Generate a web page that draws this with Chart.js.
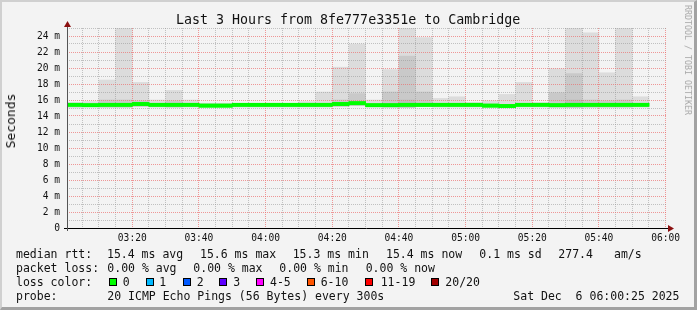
<!DOCTYPE html>
<html>
<head>
<meta charset="utf-8">
<script src="https://cdn.jsdelivr.net/npm/chart.js@4.4.1/dist/chart.umd.min.js"></script>
<style>
    html, body { margin: 0; padding: 0; background: #f3f3f3; }
    #frame {
        position: relative; width: 697px; height: 310px; box-sizing: border-box;
        border-top: 2px solid #d0d0d0; border-left: 2px solid #d0d0d0;
        border-right: 3px solid #a2a2a2; border-bottom: 3px solid #a2a2a2;
        background: #f3f3f3; overflow: hidden;
        font-family: "DejaVu Sans Mono", monospace; color: #111;
    }
    #chart { position: absolute; left: -2px; top: -2px; }
    .t { position: absolute; white-space: pre; font-size: 11.5px; line-height: 14px; }
    .box { position: absolute; width: 6px; height: 6px; border: 1px solid #000; }
</style>
</head>
<body>
<div id="frame">
    <canvas id="chart" width="697" height="310"></canvas>
</div>
<script>
// --- DATA ---
const slotTimes = ['03:00','03:05','03:10','03:15','03:20','03:25','03:30','03:35','03:40','03:45',
                   '03:50','03:55','04:00','04:05','04:10','04:15','04:20','04:25','04:30','04:35',
                   '04:40','04:45','04:50','04:55','05:00','05:05','05:10','05:15','05:20','05:25',
                   '05:30','05:35','05:40','05:45','05:50'];
// median rtt per 5 min slot (ms)
const median = [15.4,15.35,15.4,15.4,15.5,15.4,15.4,15.4,15.3,15.3,
                15.4,15.4,15.4,15.4,15.4,15.4,15.5,15.6,15.35,15.35,
                15.4,15.4,15.4,15.4,15.4,15.3,15.25,15.4,15.4,15.35,
                15.4,15.4,15.4,15.4,15.4];
// smoke: lowest and highest ping (ms)
const smokeLow = [15.0,15.1,15.1,15.1,15.2,15.1,15.1,15.1,15.1,15.1,
                  15.1,15.1,15.1,15.1,15.1,15.1,15.2,15.3,15.1,15.1,
                  15.1,15.2,15.1,15.1,15.1,15.1,15.0,15.1,15.1,15.1,
                  15.1,15.1,15.1,15.1,15.1];
const smokeHigh = [15.7,15.8,18.5,25.0,18.2,16.0,17.2,16.0,15.6,15.6,
                   15.5,15.5,15.6,15.5,15.8,17.0,20.1,23.0,16.0,19.8,
                   25.0,23.8,16.2,16.4,15.7,15.9,16.7,18.2,15.7,19.9,
                   25.0,24.4,19.4,25.0,16.4];
// denser middle part of the smoke (ms), null where there is none
const smokeMid = [null,null,16.0,16.0,15.9,null,15.9,null,null,null,
                  null,null,null,null,null,null,16.0,16.8,null,17.0,
                  21.5,17.0,null,null,null,null,null,null,null,16.9,
                  19.3,16.0,15.9,16.0,null];
const smokeCore = [null,null,null,null,null,null,null,null,null,null,
                   null,null,null,null,null,null,null,null,null,null,
                   16.0,null,null,null,null,null,null,null,null,null,
                   16.0,null,null,null,null];
const yTicks = [0,2,4,6,8,10,12,14,16,18,20,22,24];
const lossColors = [
    ['0', '#00ff00'], ['1', '#00b8ff'], ['2', '#0059ff'], ['3', '#5e00ff'],
    ['4-5', '#ff00ff'], ['6-10', '#ff5500'], ['11-19', '#ff0000'], ['20/20', '#a10000']
];
const startOffset = 25 / 60;   // graph starts at 03:00:25

const toMin = t => { const p = t.split(':'); return (+p[0]) * 60 + (+p[1]) - 180 + 2.5; };
const xs = slotTimes.map(toMin);
const floating = (lo, hi) => xs.map((x, i) => (lo[i] == null || hi[i] == null) ? { x: x, y: null } : { x: x, y: [lo[i], hi[i]] });
const medianBand = xs.map((x, i) => ({ x: x, y: [median[i] - 0.19, median[i] + 0.19] }));

const pad2 = n => String(n).padStart(2, '0');
const fmtTime = m => pad2(3 + Math.floor(m / 60)) + ':' + pad2(m % 60);

const MAJOR = 'rgba(235,110,110,0.7)';
const MINOR = 'rgba(150,150,150,0.55)';

// axes arrows + median redrawn above the grid
const overlay = {
    id: 'overlay',
    afterDraw(chart) {
        const ctx = chart.ctx, a = chart.chartArea;
        ctx.save();
        ctx.beginPath();
        ctx.rect(a.left, a.top, a.right - a.left, a.bottom - a.top);
        ctx.clip();
        chart.getDatasetMeta(3).controller.draw();
        ctx.restore();

        ctx.save();
        ctx.strokeStyle = '#000';
        ctx.lineWidth = 1;
        ctx.beginPath();
        ctx.moveTo(a.left - 3, a.bottom + 0.5); ctx.lineTo(a.right + 2, a.bottom + 0.5);
        ctx.stroke();
        ctx.strokeStyle = '#555';
        ctx.beginPath();
        ctx.moveTo(a.left + 0.5, a.top - 6); ctx.lineTo(a.left + 0.5, a.bottom + 3);
        ctx.stroke();
        ctx.fillStyle = '#8b1010';
        ctx.beginPath();
        ctx.moveTo(a.left + 0.5, a.top - 7); ctx.lineTo(a.left - 3, a.top - 1); ctx.lineTo(a.left + 4, a.top - 1);
        ctx.closePath(); ctx.fill();
        ctx.beginPath();
        ctx.moveTo(a.right + 7, a.bottom + 0.5); ctx.lineTo(a.right + 1, a.bottom - 3); ctx.lineTo(a.right + 1, a.bottom + 4);
        ctx.closePath(); ctx.fill();
        ctx.restore();
    }
};

const ctx = document.getElementById('chart').getContext('2d');
new Chart(ctx, {
    type: 'bar',
    data: {
        datasets: [
            { data: floating(smokeLow, smokeHigh), backgroundColor: '#dcdcdc', order: 3 },
            { data: floating(smokeLow, smokeMid), backgroundColor: '#c9c9c9', order: 2 },
            { data: floating(smokeLow, smokeCore), backgroundColor: '#bdbdbd', order: 1 },
            { data: medianBand, backgroundColor: '#00ff00', order: 0 }
        ]
    },
    options: {
        responsive: false,
        animation: false,
        devicePixelRatio: 1,
        layout: { padding: { left: 0, top: 28, right: 30, bottom: 62 } },
        datasets: {
            bar: { grouped: false, barPercentage: 1, categoryPercentage: 1, borderWidth: 0 }
        },
        plugins: { legend: { display: false }, tooltip: { enabled: false } },
        scales: {
            x: {
                type: 'linear',
                offset: false,
                min: startOffset,
                max: 180 + startOffset,
                afterFit: s => { s.height = 20; },
                afterBuildTicks: s => {
                    const t = [];
                    for (let m = 5; m <= 180; m += 5) t.push({ value: m });
                    s.ticks = t;
                },
                grid: {
                    z: 1,
                    offset: false,
                    drawTicks: false,
                    color: c => (c.tick && c.tick.value % 20 === 0) ? MAJOR : MINOR
                },
                border: { display: false, dash: [1, 1] },
                ticks: {
                    autoSkip: false, maxRotation: 0, padding: 5, color: '#111',
                    font: { family: 'DejaVu Sans Mono', size: 9.6 },
                    callback: v => v % 20 === 0 ? fmtTime(v) : ''
                }
            },
            y: {
                min: 0, max: 25,
                afterFit: s => { s.width = 67; },
                afterBuildTicks: s => {
                    const t = [];
                    for (let v = 0; v <= 25; v++) t.push({ value: v });
                    s.ticks = t;
                },
                grid: {
                    z: 1,
                    drawTicks: false,
                    color: c => (c.tick && c.tick.value === 0) ? 'rgba(0,0,0,0)' :
                        (yTicks.includes(c.tick.value) ? MAJOR : MINOR)
                },
                border: { display: false, dash: [1, 1] },
                ticks: {
                    autoSkip: false, padding: 7, color: '#111',
                    font: { family: 'DejaVu Sans Mono', size: 9.6 },
                    callback: v => yTicks.includes(v) ? (v === 0 ? '0' : v + ' m') : ''
                }
            }
        }
    },
    plugins: [overlay]
});

// --- TEXT AROUND THE GRAPH ---
const frame = document.getElementById('frame');
function put(text, x, y, style) {
    const d = document.createElement('div');
    d.className = 't';
    d.textContent = text;
    d.style.left = (x - 2) + 'px';
    d.style.top = (y - 2) + 'px';
    if (style) Object.assign(d.style, style);
    frame.appendChild(d);
    return d;
}
put('Last 3 Hours from 8fe777e3351e to Cambridge', 176, 12, { fontSize: '13.3px', lineHeight: '16px' });
put('Seconds', 11, 121, { fontSize: '13px', transform: 'translate(-50%, -50%) rotate(-90deg)' });
put('RRDTOOL / TOBI OETIKER', 688, 60, { fontSize: '8.3px', color: '#a8a8a8', transform: 'translate(-50%, -50%) rotate(90deg)' });

const rows = [247, 261, 275, 289];
put('median rtt:', 16, rows[0]);
put('15.4 ms avg', 107, rows[0]);
put('15.6 ms max', 200, rows[0]);
put('15.3 ms min', 292.7, rows[0]);
put('15.4 ms now', 386, rows[0]);
put('0.1 ms sd', 479.3, rows[0]);
put('277.4', 558.3, rows[0]);
put('am/s', 614, rows[0]);

put('packet loss:', 16, rows[1]);
put('0.00 % avg', 107.3, rows[1]);
put('0.00 % max', 193.3, rows[1]);
put('0.00 % min', 279.3, rows[1]);
put('0.00 % now', 365.7, rows[1]);

put('loss color:', 16, rows[2]);
const boxX = [108.7, 145.7, 182.7, 219, 256, 307, 365.3, 430.7];
const labelX = [122.7, 159.3, 196.7, 233.3, 270, 320.7, 380.7, 445.3];
lossColors.forEach((lc, i) => {
    const b = document.createElement('div');
    b.className = 'box';
    b.style.left = (boxX[i] - 2) + 'px';
    b.style.top = (278 - 2) + 'px';
    b.style.background = lc[1];
    frame.appendChild(b);
    put(lc[0], labelX[i], rows[2]);
});

put('probe:', 16, rows[3]);
put('20 ICMP Echo Pings (56 Bytes) every 300s', 107.3, rows[3]);
put('Sat Dec  6 06:00:25 2025', 513.3, rows[3]);
</script>
</body>
</html>
